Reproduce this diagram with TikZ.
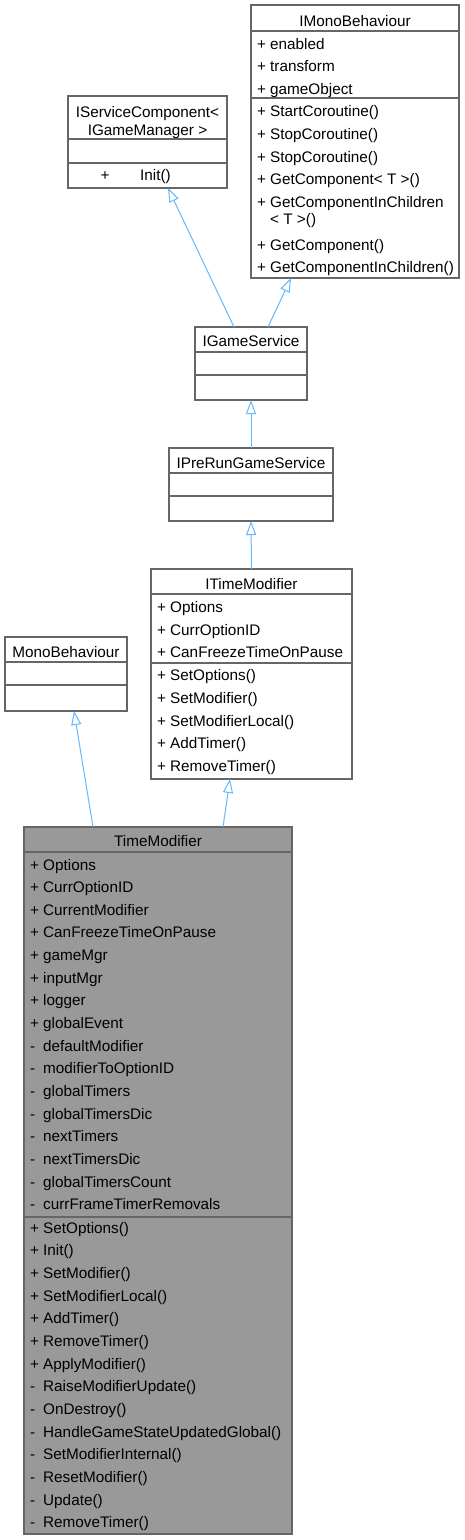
\documentclass[tikz,border=0pt]{standalone}
\usepackage{fontspec}
\setmainfont{Liberation Sans}
\usetikzlibrary{arrows.meta,calc}
\definecolor{boxline}{HTML}{666666}
\definecolor{mainfill}{HTML}{999999}
\definecolor{edgeblue}{HTML}{63B8FF}
\newcommand\umlfs{\fontsize{15.3}{17}\selectfont}
\newcommand\mem[2]{\makebox[13pt][l]{#1}#2}
\begin{document}
\begin{tikzpicture}[x=1pt,y=-1pt,
 box/.style={draw=boxline, line width=1.1pt, fill=white, inner sep=0pt, outer sep=0pt, anchor=north west},
 mainbox/.style={box, fill=mainfill},
 sep/.style={draw=boxline, line width=1.1pt},
 txt/.style={inner sep=0pt, anchor=base west, font=\umlfs},
 ttl/.style={inner sep=0pt, anchor=base, font=\umlfs},
 inh/.style={draw=edgeblue, line width=1pt, -{Triangle[open, length=14pt, width=10pt, fill=white]}},
]
\useasboundingbox[fill=white] (0,0) rectangle (465,1540);

% IMonoBehaviour
\node[box, minimum width=208pt, minimum height=273pt] (imono) at (251,5) {};
\draw[sep] (251,31) -- (459,31);
\draw[sep] (251,98) -- (459,98);
\node[ttl] (imonoT) at (355,26) {IMonoBehaviour};
\node[txt] (imA1) at (257,49) {\mem{+}{enabled}};
\node[txt] (imA2) at (257,71.6) {\mem{+}{transform}};
\node[txt] (imA3) at (257,94.2) {\mem{+}{gameObject}};
\node[txt] (imM1) at (257,116.8) {\mem{+}{StartCoroutine()}};
\node[txt] (imM2) at (257,139.4) {\mem{+}{StopCoroutine()}};
\node[txt] (imM3) at (257,162) {\mem{+}{StopCoroutine()}};
\node[txt] (imM4) at (257,184.7) {\mem{+}{GetComponent< T >()}};
\node[txt] (imM5) at (257,207.3) {\mem{+}{GetComponentInChildren}};
\node[txt] (imM5b) at (257,224.5) {\mem{}{< T >()}};
\node[txt] (imM6) at (257,250) {\mem{+}{GetComponent()}};
\node[txt] (imM7) at (257,272.6) {\mem{+}{GetComponentInChildren()}};

% IServiceComponent
\node[box, minimum width=159pt, minimum height=92pt] (isc) at (68,96) {};
\draw[sep] (68,139) -- (227,139);
\draw[sep] (68,163) -- (227,163);
\node[ttl] (iscT1) at (147.5,117) {IServiceComponent<};
\node[ttl] (iscT2) at (147.5,135) {IGameManager >};
\node[txt] (iscS) at (100.5,180) {+};
\node[txt] (iscM) at (140,180) {Init()};

% IGameService
\node[box, minimum width=112pt, minimum height=73pt] (gs) at (195,327) {};
\draw[sep] (195,352) -- (307,352);
\draw[sep] (195,375) -- (307,375);
\node[ttl] (gsT) at (251,346.7) {IGameService};

% IPreRunGameService
\node[box, minimum width=164pt, minimum height=73pt] (prs) at (169,448) {};
\draw[sep] (169,473) -- (333,473);
\draw[sep] (169,496) -- (333,496);
\node[ttl] (prsT) at (251,468.3) {IPreRunGameService};

% ITimeModifier
\node[box, minimum width=201pt, minimum height=210pt] (itm) at (151,569) {};
\draw[sep] (151,594) -- (352,594);
\draw[sep] (151,663) -- (352,663);
\node[ttl] (itmT) at (251.5,589.3) {ITimeModifier};
\node[txt] (itA1) at (157,612.7) {\mem{+}{Options}};
\node[txt] (itA2) at (157,635.3) {\mem{+}{CurrOptionID}};
\node[txt] (itA3) at (157,657.9) {\mem{+}{CanFreezeTimeOnPause}};
\node[txt] (itM1) at (157,680.7) {\mem{+}{SetOptions()}};
\node[txt] (itM2) at (157,703.3) {\mem{+}{SetModifier()}};
\node[txt] (itM3) at (157,726) {\mem{+}{SetModifierLocal()}};
\node[txt] (itM4) at (157,748.6) {\mem{+}{AddTimer()}};
\node[txt] (itM5) at (157,771.2) {\mem{+}{RemoveTimer()}};

% MonoBehaviour
\node[box, minimum width=122pt, minimum height=74pt] (mb) at (5,637) {};
\draw[sep] (5,662) -- (127,662);
\draw[sep] (5,685) -- (127,685);
\node[ttl] (mbT) at (66,657.7) {MonoBehaviour};

% TimeModifier
\node[mainbox, minimum width=268pt, minimum height=707pt] (tm) at (24,827) {};
\draw[sep] (24,852) -- (292,852);
\draw[sep] (24,1217) -- (292,1217);
\node[ttl] (tmT) at (158,846.7) {TimeModifier};
\foreach \s/\t [count=\i from 0] in {
 +/Options, +/CurrOptionID, +/CurrentModifier, +/CanFreezeTimeOnPause,
 +/gameMgr, +/inputMgr, +/logger, +/globalEvent,
 -/defaultModifier, -/modifierToOptionID, -/globalTimers, -/globalTimersDic,
 -/nextTimers, -/nextTimersDic, -/globalTimersCount, -/currFrameTimerRemovals}
 \node[txt] (tmA\i) at (30,870+22.65*\i) {\mem{\s}{\t}};
\foreach \s/\t [count=\i from 0] in {
 +/SetOptions(), +/Init(), +/SetModifier(), +/SetModifierLocal(),
 +/AddTimer(), +/RemoveTimer(), +/ApplyModifier(), -/RaiseModifierUpdate(),
 -/OnDestroy(), -/HandleGameStateUpdatedGlobal(), -/SetModifierInternal(),
 -/ResetModifier(), -/Update(), -/RemoveTimer()}
 \node[txt] (tmM\i) at (30,1233.3+22.65*\i) {\mem{\s}{\t}};

% inheritance edges
\draw[inh] ($(gs.north west)+(39,0)$) -- ($(isc.south west)+(100,0)$);
\draw[inh] ($(gs.north west)+(73,0)$) -- ($(imono.south west)+(40,0)$);
\draw[inh] (prs.north) -- (gs.south);
\draw[inh] (itm.north) -- (prs.south);
\draw[inh] ($(tm.north west)+(69,0)$) -- ($(mb.south west)+(69,0)$);
\draw[inh] ($(tm.north west)+(199,0)$) -- ($(itm.south west)+(79,0)$);
\end{tikzpicture}
\end{document}
